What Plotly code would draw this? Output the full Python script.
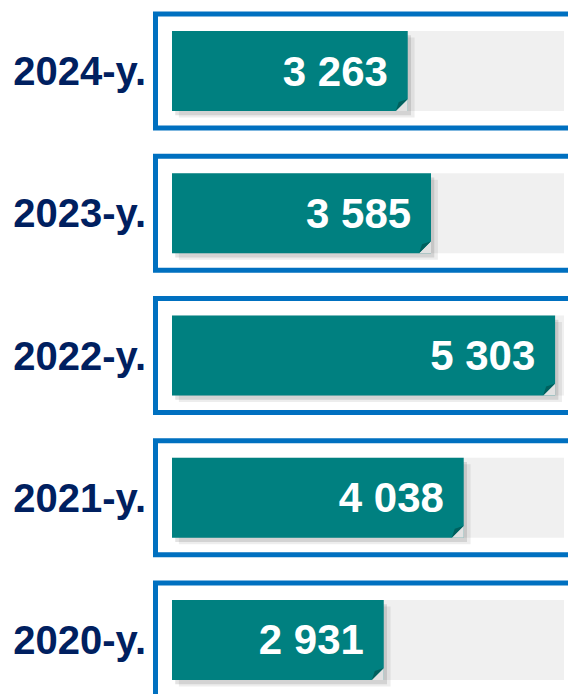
import plotly.graph_objects as go

years = ["2024-y.", "2023-y.", "2022-y.", "2021-y.", "2020-y."]
values = [3263, 3585, 5303, 4038, 2931]
rows = [4, 3, 2, 1, 0]

XMAX = 5426
BAR_W = 0.5624
TEAL = "#008080"
NAVY = "#002060"
BLUE = "#0070C0"

fig = go.Figure()

# soft shadow under the bars
fig.add_bar(x=values, y=rows, base=45, orientation="h", width=BAR_W,
            offset=-BAR_W / 2 - 0.03, marker=dict(color="rgba(0,0,0,0.11)", line_width=0),
            hoverinfo="skip")
fig.add_bar(x=values, y=rows, base=95, orientation="h", width=BAR_W,
            offset=-BAR_W / 2 - 0.045, marker=dict(color="rgba(0,0,0,0.07)", line_width=0),
            hoverinfo="skip")

fig.add_bar(
    x=values, y=rows, orientation="h", width=BAR_W,
    marker=dict(color=TEAL, line_width=0),
    texttemplate="%{x:,}\u2009\u2009", textposition="inside", insidetextanchor="end",
    textfont=dict(family="Arial, Liberation Sans", size=42, color="white", weight="bold"),
    hoverinfo="skip",
)

shapes = []
for r in rows:
    # blue frame
    shapes.append(dict(type="rect", xref="paper", yref="y", x0=-0.0421, x1=1.1,
                       y0=r - 0.40, y1=r + 0.40, line=dict(color=BLUE, width=5),
                       fillcolor="white", layer="below"))
for r in rows:
    # grey track
    shapes.append(dict(type="rect", xref="x domain", yref="y", x0=0, x1=1,
                       y0=r - BAR_W / 2, y1=r + BAR_W / 2, line_width=0,
                       fillcolor="#F0F0F0", layer="below"))

# folded corner at the end of each bar
fdx = 12 * XMAX / 392
fdy = 12 / 142.25
for v, r in zip(values, rows):
    yb = r - BAR_W / 2
    shapes.append(dict(type="path", xref="x", yref="y",
                       path=f"M{v},{yb + fdy} L{v},{yb} L{v - fdx},{yb} Z",
                       fillcolor="#E2E2E2", line_width=0))
    shapes.append(dict(type="path", xref="x", yref="y",
                       path=f"M{v},{yb + fdy} L{v - fdx},{yb} L{v - fdx * 0.75},{yb + fdy * 0.75} Z",
                       fillcolor="#00605E", line_width=0))

fig.update_layout(
    width=576, height=694,
    margin=dict(l=164, r=20, t=0, b=0),
    paper_bgcolor="white", plot_bgcolor="rgba(0,0,0,0)",
    barmode="overlay", showlegend=False,
    separators=". ",
    shapes=shapes,
    xaxis=dict(range=[0, XMAX], visible=False, fixedrange=True),
    yaxis=dict(range=[-0.4359, 4.4429], tickvals=rows, ticktext=years,
               showgrid=False, zeroline=False, ticks="", ticklabelstandoff=25,
               tickfont=dict(family="Arial, Liberation Sans", size=40, color=NAVY, weight="bold"),
               fixedrange=True),
)

fig.write_html("out.html")
